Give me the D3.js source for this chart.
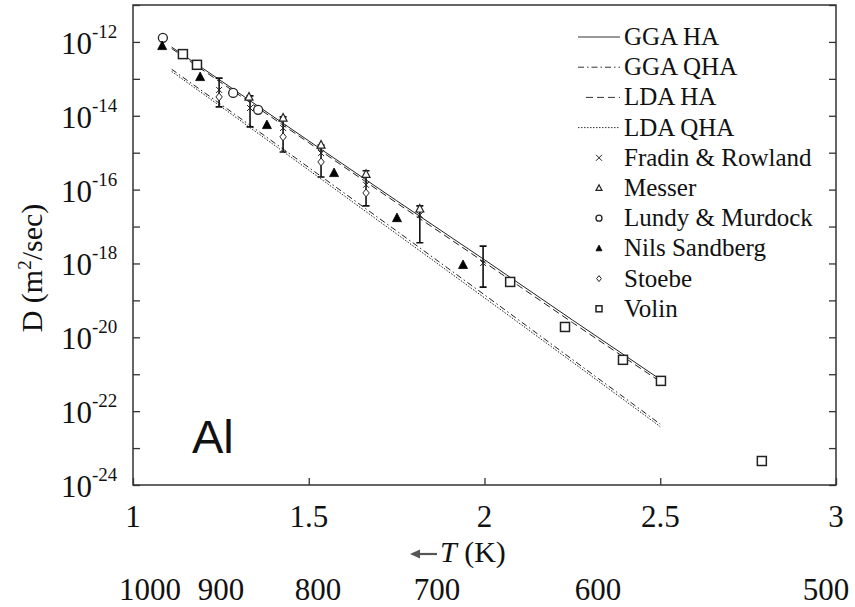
<!DOCTYPE html>
<html>
<head>
<meta charset="utf-8">
<script src="https://cdn.jsdelivr.net/npm/d3@7"></script>
<style>
  html, body { margin: 0; padding: 0; background: #fff; }
  svg { display: block; }
  text { font-family: "Liberation Serif", "Times New Roman", serif; fill: #111; }
</style>
</head>
<body>
<svg id="chart" width="855" height="607"></svg>
<script>
// ---------------- data ----------------
const xTicks = [1, 1.5, 2, 2.5, 3];
const xTickLabels = ["1", "1.5", "2", "2.5", "3"];
const yDecades = d3.range(-24, -10);            // exponents for ticks
const yLabelExps = [-24, -22, -20, -18, -16, -14, -12];

// theory curves: x = 1000/T, values = log10 D
const curveX = [1.11, 1.25, 1.5, 1.75, 2.0, 2.25, 2.5];
const ggaHA  = [-12.14, -13.05, -14.68, -16.30, -17.90, -19.53, -21.14];
const ldaHA  = [-12.18, -13.10, -14.73, -16.36, -17.97, -19.60, -21.20];
const ggaQHA = [-12.74, -13.69, -15.40, -17.12, -18.85, -20.60, -22.35];
const ldaQHA = [-12.80, -13.75, -15.47, -17.20, -18.93, -20.67, -22.42];

// experiments (x, log10 D)
const fradinX   = [1.245, 1.333, 1.427, 1.535, 1.663, 1.816, 1.996];
const fradinY   = [-13.30, -13.79, -14.33, -15.01, -15.87, -16.69, -17.99];
const fradinHi  = [-12.98, -13.46, -14.03, -14.79, -15.49, -16.44, -17.53];
const fradinLo  = [-13.76, -14.30, -14.98, -15.66, -16.44, -17.44, -18.64];

const messerX = [1.330, 1.427, 1.535, 1.663, 1.816];
const messerY = [-13.49, -14.06, -14.79, -15.58, -16.52];

const lundyX = [1.085, 1.285, 1.356];
const lundyY = [-11.89, -13.38, -13.84];

const nilsX = [1.083, 1.191, 1.381, 1.572, 1.751, 1.939];
const nilsY = [-12.11, -12.95, -14.25, -15.55, -16.77, -18.04];

const stoebeX = [1.245, 1.427, 1.535, 1.663];
const stoebeY = [-13.49, -14.57, -15.25, -16.09];

const volinX = [1.142, 1.182, 2.073, 2.229, 2.394, 2.502, 2.789];
const volinY = [-12.33, -12.62, -18.50, -19.72, -20.61, -21.18, -23.35];

const legendNames = ["GGA HA", "GGA QHA", "LDA HA", "LDA QHA", "Fradin & Rowland",
                     "Messer", "Lundy & Murdock", "Nils Sandberg", "Stoebe", "Volin"];

const tempLabels = ["1000", "900", "800", "700", "600", "500"];
const tempLabelX = [150, 221, 318, 437, 598, 826];   // layout positions (px)

// ---------------- layout ----------------
const L = 133, R = 836, T = 5, B = 485;
const svg = d3.select("#chart");
const x = d3.scaleLinear().domain([1, 3]).range([L, R]);
const y = d3.scaleLog().domain([1e-24, 1e-11]).range([B, T]);
const Y = e => y(Math.pow(10, e));
const ink = "#222";

// frame
svg.append("rect").attr("x", L).attr("y", T).attr("width", R - L).attr("height", B - T)
  .attr("fill", "none").attr("stroke", "#333").attr("stroke-width", 1.5);

// left axis ticks (inward)
const decadeVals = yDecades.map(e => Math.pow(10, e));
svg.append("g").attr("transform", `translate(${L},0)`)
  .call(d3.axisLeft(y).tickValues(decadeVals).tickSize(-7).tickFormat(""))
  .call(g => g.select(".domain").remove())
  .call(g => g.selectAll("line").attr("stroke", "#333").attr("stroke-width", 1.3));
// right axis ticks (inward)
svg.append("g").attr("transform", `translate(${R},0)`)
  .call(d3.axisRight(y).tickValues(decadeVals).tickSize(-7).tickFormat(""))
  .call(g => g.select(".domain").remove())
  .call(g => g.selectAll("line").attr("stroke", "#333").attr("stroke-width", 1.3));
// bottom ticks (inward)
svg.append("g").attr("transform", `translate(0,${B})`)
  .call(d3.axisBottom(x).tickValues(xTicks).tickSize(-7).tickFormat(""))
  .call(g => g.select(".domain").remove())
  .call(g => g.selectAll("line").attr("stroke", "#333").attr("stroke-width", 1.3));

// y tick labels 10^e
yLabelExps.forEach(e => {
  const t = svg.append("text").attr("x", 92).attr("y", Y(e) + 12)
    .attr("text-anchor", "end").style("font-size", "31px").text("10");
  svg.append("text").attr("x", 92).attr("y", Y(e) - 4)
    .style("font-size", "19px").text(String(e).replace("-", "-"));
});

// x tick labels
xTicks.forEach((v, i) => {
  svg.append("text").attr("x", x(v)).attr("y", 527).attr("text-anchor", "middle")
    .style("font-size", "31px").text(xTickLabels[i]);
});

// y axis title
const yt = svg.append("text").attr("transform", "translate(42,268) rotate(-90)")
  .attr("text-anchor", "middle").style("font-size", "30px");
yt.append("tspan").text("D (m");
yt.append("tspan").attr("dy", -11).style("font-size", "19px").text("2");
yt.append("tspan").attr("dy", 11).text("/sec)");

// x axis title
svg.append("line").attr("x1", 437).attr("x2", 414).attr("y1", 554).attr("y2", 554)
  .attr("stroke", "#555").attr("stroke-width", 2.2);
svg.append("path").attr("d", "M410,554 L420,549.5 L420,558.5 Z").attr("fill", "#555");
const xt = svg.append("text").attr("x", 440).attr("y", 562).style("font-size", "30px");
xt.append("tspan").style("font-style", "italic").text("T");
xt.append("tspan").text(" (K)");

// temperature labels
tempLabels.forEach((s, i) => {
  svg.append("text").attr("x", tempLabelX[i]).attr("y", 600).attr("text-anchor", "middle")
    .style("font-size", "31px").text(s);
});

// "Al"
svg.append("text").attr("x", 192).attr("y", 453)
  .style("font-family", "'Liberation Sans', Arial, sans-serif").style("font-size", "47px")
  .text("Al");

// ---------------- curves ----------------
const curveStyles = [
  { data: ggaHA,  dash: null },
  { data: ggaQHA, dash: "6,3,1.5,3" },
  { data: ldaHA,  dash: "7,4" },
  { data: ldaQHA, dash: "1.5,1.5" }
];
const line = d3.line().x(d => x(d[0])).y(d => Y(d[1]));
curveStyles.forEach(c => {
  svg.append("path").datum(curveX.map((v, i) => [v, c.data[i]]))
    .attr("d", line).attr("fill", "none").attr("stroke", ink).attr("stroke-width", 1)
    .attr("stroke-dasharray", c.dash);
});

// ---------------- markers ----------------
function drawMarker(g, type, cx, cy, s) {
  const h = s / 2;
  if (type === "x") {
    g.append("path").attr("d", `M${cx-h},${cy-h}L${cx+h},${cy+h}M${cx-h},${cy+h}L${cx+h},${cy-h}`)
      .attr("stroke", ink).attr("stroke-width", 1).attr("fill", "none");
  } else if (type === "tri") {
    g.append("path").attr("d", `M${cx},${cy-h*1.1}L${cx+h},${cy+h*0.8}L${cx-h},${cy+h*0.8}Z`)
      .attr("stroke", ink).attr("stroke-width", 1.2).attr("fill", "#fff");
  } else if (type === "tri-f") {
    g.append("path").attr("d", `M${cx},${cy-h*1.1}L${cx+h},${cy+h*0.8}L${cx-h},${cy+h*0.8}Z`)
      .attr("stroke", "#000").attr("stroke-width", 0.8).attr("fill", "#000");
  } else if (type === "circ") {
    g.append("circle").attr("cx", cx).attr("cy", cy).attr("r", h)
      .attr("stroke", ink).attr("stroke-width", 1.3).attr("fill", "#fff");
  } else if (type === "dia") {
    g.append("path").attr("d", `M${cx},${cy-h}L${cx+h*0.8},${cy}L${cx},${cy+h}L${cx-h*0.8},${cy}Z`)
      .attr("stroke", ink).attr("stroke-width", 1).attr("fill", "#fff");
  } else if (type === "sq") {
    g.append("rect").attr("x", cx - h).attr("y", cy - h).attr("width", s).attr("height", s)
      .attr("stroke", ink).attr("stroke-width", 1.5).attr("fill", "#fff");
  }
}

const pts = svg.append("g");
// Fradin error bars
fradinX.forEach((v, i) => {
  const cx = x(v), y1 = Y(fradinHi[i]), y2 = Y(fradinLo[i]);
  pts.append("path").attr("d", `M${cx},${y1}L${cx},${y2}M${cx-3.5},${y1}L${cx+3.5},${y1}M${cx-3.5},${y2}L${cx+3.5},${y2}`)
    .attr("stroke", "#111").attr("stroke-width", 1.6).attr("fill", "none");
});
volinX.forEach((v, i) => drawMarker(pts, "sq", x(v), Y(volinY[i]), 9));
lundyX.forEach((v, i) => drawMarker(pts, "circ", x(v), Y(lundyY[i]), 9));
nilsX.forEach((v, i) => drawMarker(pts, "tri-f", x(v), Y(nilsY[i]), 9));
messerX.forEach((v, i) => drawMarker(pts, "tri", x(v), Y(messerY[i]), 8));
stoebeX.forEach((v, i) => drawMarker(pts, "dia", x(v), Y(stoebeY[i]), 8));
fradinX.forEach((v, i) => drawMarker(pts, "x", x(v), Y(fradinY[i]), 6));

// ---------------- legend ----------------
const leg = svg.append("g");
const legTypes = [null, null, null, null, "x", "tri", "circ", "tri-f", "dia", "sq"];
legendNames.forEach((name, i) => {
  const by = 45 + i * 30.2, cy = by - 8;
  if (i < 4) {
    const c = curveStyles[i];
    leg.append("line").attr("x1", i === 2 ? 586 : 578).attr("x2", 620).attr("y1", cy).attr("y2", cy)
      .attr("stroke", "#333").attr("stroke-width", 1).attr("stroke-dasharray", c.dash);
  } else {
    drawMarker(leg, legTypes[i], 599, cy, 6);
  }
  leg.append("text").attr("x", 624).attr("y", by).style("font-size", "25px").text(name);
});
</script>
</body>
</html>
